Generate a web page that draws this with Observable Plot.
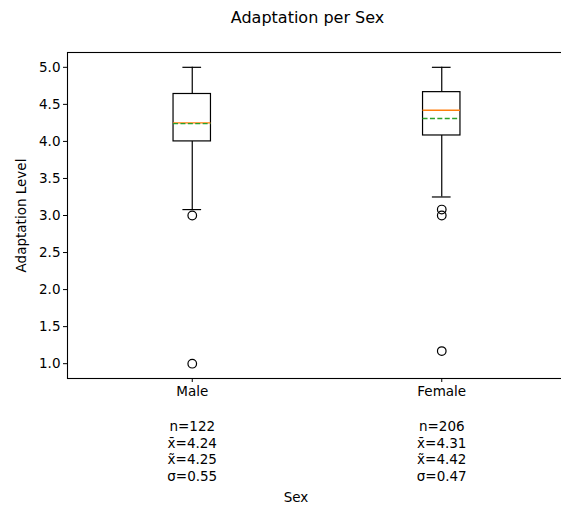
<!DOCTYPE html>
<html>
<head>
<meta charset="utf-8">
<script src="https://cdn.jsdelivr.net/npm/d3@7"></script>
<script src="https://cdn.jsdelivr.net/npm/@observablehq/plot@0.6"></script>
<style>
  html, body { margin: 0; padding: 0; background: #fff; }
  svg { display: block; }
</style>
</head>
<body>
<div id="chart"></div>
<script>
const categories = ["Male", "Female"];
const positions = [1, 2];
const q1 = [4.0, 4.08];
const q3 = [4.64, 4.665];
const medians = [4.25, 4.42];
const means = [4.24, 4.31];
const whiskerLow = [3.08, 3.25];
const whiskerHigh = [5.0, 5.0];
const counts = [122, 206];
const stdDevs = [0.55, 0.47];
const outlierCategory = ["Male", "Male", "Female", "Female", "Female"];
const outlierValues = [3.0, 1.0, 3.08, 3.0, 1.17];
const yTicks = [1.0, 1.5, 2.0, 2.5, 3.0, 3.5, 4.0, 4.5, 5.0];

const boxes = categories.map((c, i) => ({
  category: c, pos: positions[i], q1: q1[i], q3: q3[i],
  median: medians[i], mean: means[i], lo: whiskerLow[i], hi: whiskerHigh[i],
  n: counts[i], sd: stdDevs[i]
}));
const outliers = outlierValues.map((v, i) => ({
  pos: positions[categories.indexOf(outlierCategory[i])], value: v
}));

const halfBox = 0.075;
const halfCap = 0.0375;
const font = "DejaVu Sans";

const chart = Plot.plot({
  width: 561,
  height: 506,
  marginLeft: 67,
  marginRight: -5,
  marginTop: 52,
  marginBottom: 128,
  style: { fontFamily: font, fontSize: "13.5px", color: "#000", background: "#fff" },
  x: { type: "linear", domain: [0.5, 2.5] },
  y: { domain: [0.8, 5.2] },
  marks: [
    Plot.frame({ stroke: "#000", strokeWidth: 1.1 }),
    Plot.axisY({
      ticks: yTicks, tickFormat: d3.format(".1f"), tickSize: 4, tickPadding: 3,
      label: "Adaptation Level", labelAnchor: "center", labelArrow: "none",
      labelOffset: 51, fontSize: "13.5px"
    }),
    Plot.axisX({
      ticks: positions, tickFormat: (d) => categories[positions.indexOf(d)],
      tickSize: 4, tickPadding: 4, label: null, fontSize: "13.5px"
    }),
    // whiskers
    Plot.ruleX(boxes, { x: "pos", y1: "q3", y2: "hi", stroke: "#000", strokeWidth: 1.2 }),
    Plot.ruleX(boxes, { x: "pos", y1: "q1", y2: "lo", stroke: "#000", strokeWidth: 1.2 }),
    Plot.ruleY(boxes, { y: "hi", x1: (d) => d.pos - halfCap, x2: (d) => d.pos + halfCap, stroke: "#000", strokeWidth: 1.2 }),
    Plot.ruleY(boxes, { y: "lo", x1: (d) => d.pos - halfCap, x2: (d) => d.pos + halfCap, stroke: "#000", strokeWidth: 1.2 }),
    // boxes
    Plot.rect(boxes, { x1: (d) => d.pos - halfBox, x2: (d) => d.pos + halfBox, y1: "q1", y2: "q3", fill: "none", stroke: "#000", strokeWidth: 1.2 }),
    // median
    Plot.ruleY(boxes, { y: "median", x1: (d) => d.pos - halfBox, x2: (d) => d.pos + halfBox, stroke: "#ff7f0e", strokeWidth: 1.4 }),
    // mean
    Plot.ruleY(boxes, { y: "mean", x1: (d) => d.pos - halfBox, x2: (d) => d.pos + halfBox, stroke: "#2ca02c", strokeWidth: 1.4, strokeDasharray: "5,2.4" }),
    // outliers
    Plot.dot(outliers, { x: "pos", y: "value", r: 4.3, stroke: "#000", fill: "none", strokeWidth: 1.2 }),
    // stats text
    Plot.text(boxes, {
      x: "pos",
      text: (d) => `n=${d.n}\nx\u0304=${d.mean.toFixed(2)}\nx\u0303=${d.median.toFixed(2)}\n\u03c3=${d.sd.toFixed(2)}`,
      frameAnchor: "bottom", lineAnchor: "top", dy: 41, lineHeight: 1.23,
      fontSize: "13.5px", fill: "#000"
    }),
    // x label
    Plot.text(["Sex"], { frameAnchor: "bottom", lineAnchor: "middle", dy: 119, dx: -21, fontSize: "13.5px", fill: "#000" }),
    // title
    Plot.text(["Adaptation per Sex"], { frameAnchor: "top", lineAnchor: "middle", dy: -35, dx: -9.5, fontSize: "16px", fill: "#000" })
  ]
});
document.getElementById("chart").appendChild(chart);
</script>
</body>
</html>
